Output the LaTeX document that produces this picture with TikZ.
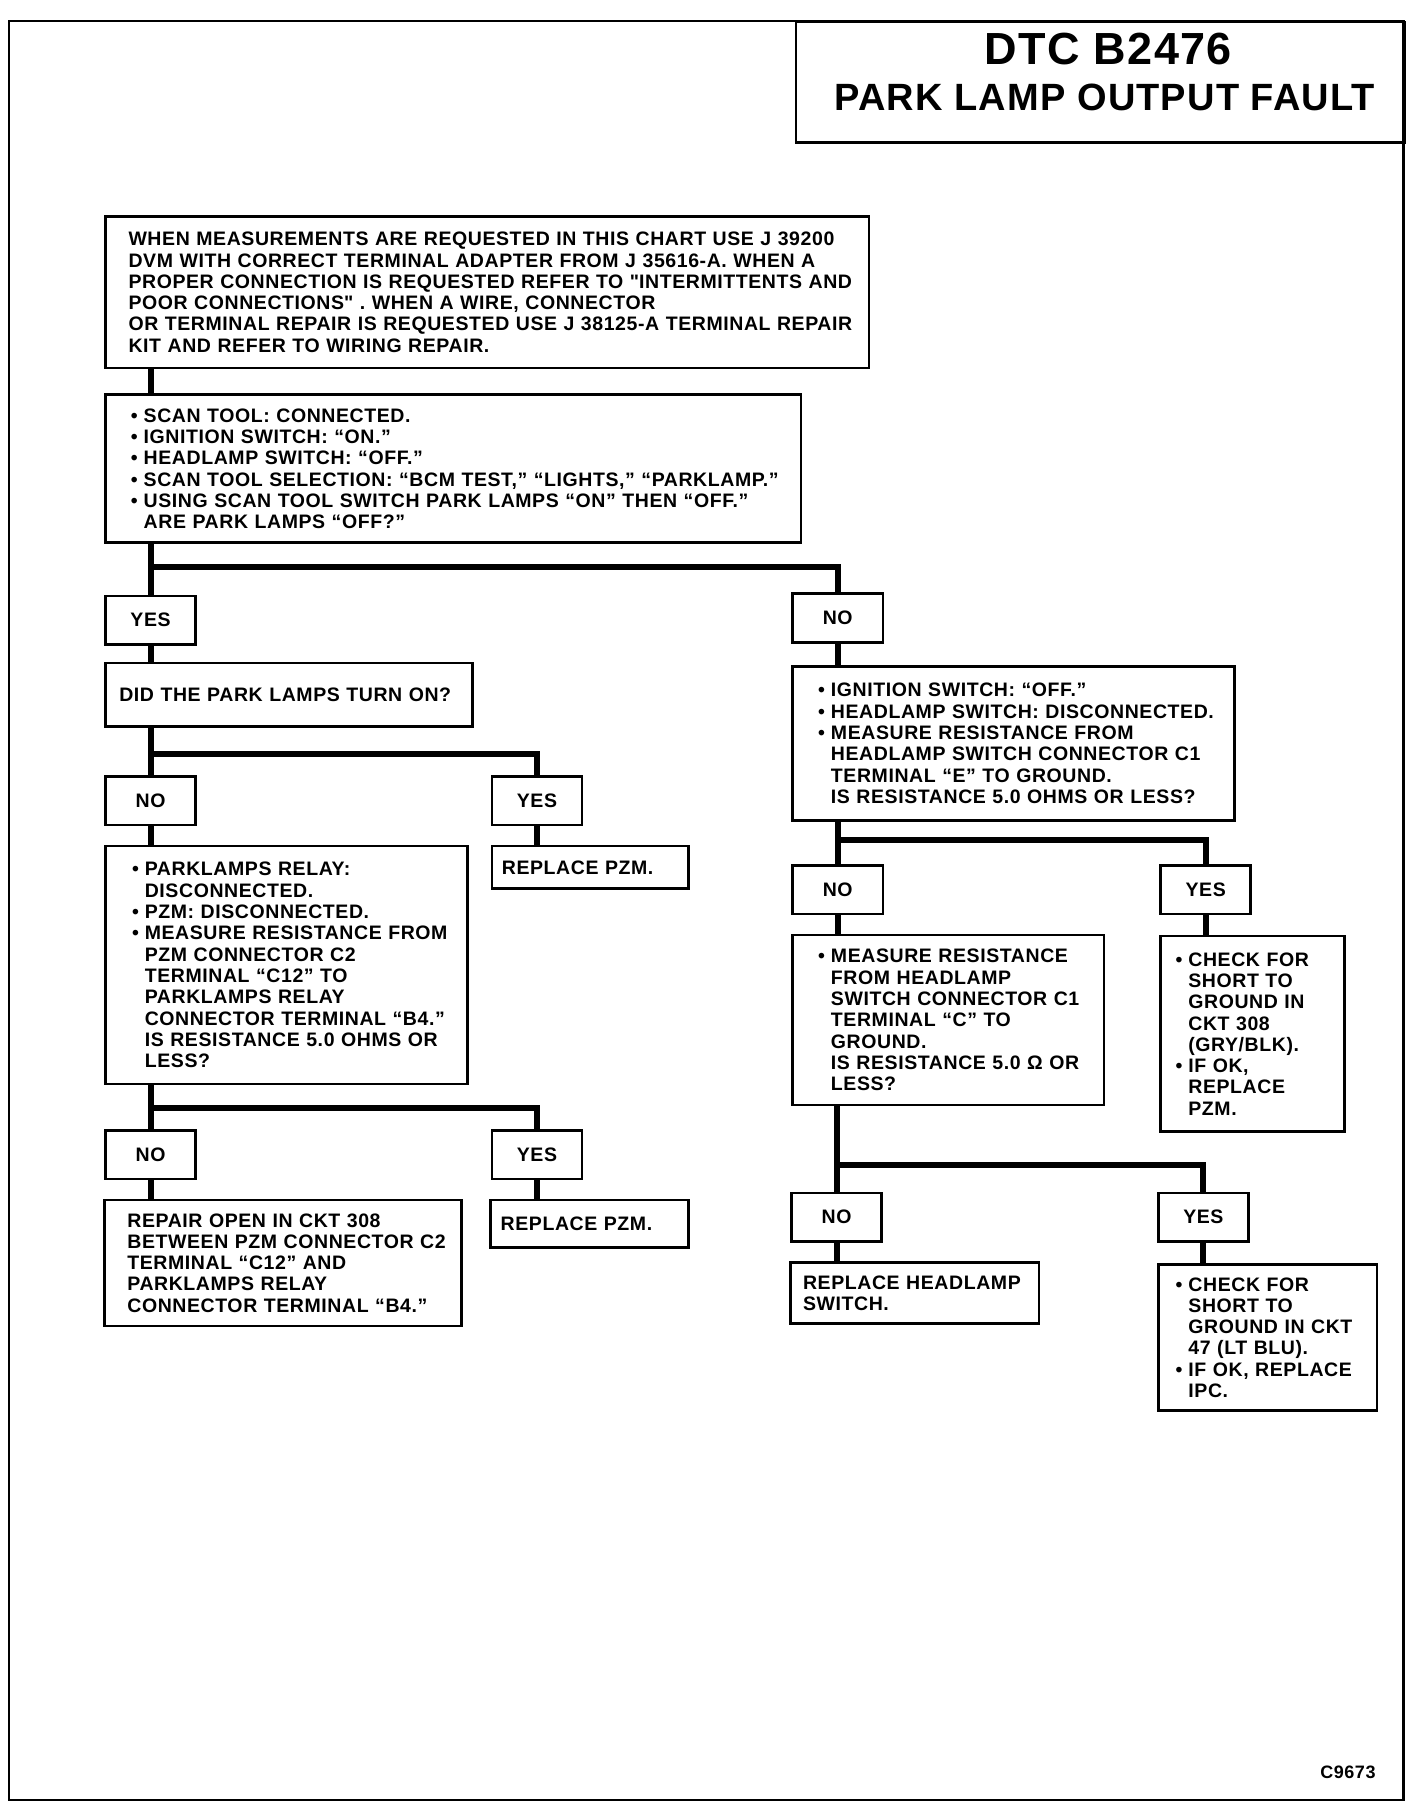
\documentclass[tikz,border=0pt]{standalone}
\usepackage{fontspec}
\setmainfont{Liberation Sans}[LetterSpace=3]
\setlength{\parindent}{0pt}
\newcommand{\bul}{\makebox[12.8pt][l]{\textbullet}}
\newcommand{\ind}{\hspace*{12.8pt}}

\begin{document}
\begin{tikzpicture}[x=1.157pt, y=-1.157pt,
	every node/.style={font=\bfseries\fontsize{19.5pt}{21.3pt}\selectfont},
	box/.style={draw, line width=2.6pt, anchor=north west, align=left, inner ysep=0pt,
		execute at begin node={\rightskip=0pt plus 1fil minus 100pt\relax}},
	ans/.style={draw, line width=2.6pt, anchor=north west, minimum width=90.2pt, minimum height=48.6pt, inner sep=0pt},
	link/.style={line width=6pt}]
	\fill[white] (0,0) rectangle (1230.8,1567.9);
	\useasboundingbox (0,0) rectangle (1230.8,1567.9);
	\draw[line width=2.3pt] (8,18) rectangle (1213,1556);

	% title block
	\node (title) [draw, line width=2.6pt, anchor=north west, minimum width=608.6pt, minimum height=120.3pt, inner sep=0pt] at (687,18) {};
	\node (dtc) [font=\bfseries\fontsize{45pt}{45pt}\selectfont] at (958,42) {DTC B2476};
	\node (plf) [font=\bfseries\fontsize{38pt}{38pt}\selectfont] at (955,84) {PARK LAMP OUTPUT FAULT};

	% left column
	\node (intro) [box, text width=717.4pt, inner xsep=23.1pt, minimum height=151.6pt] at (90,186) {WHEN MEASUREMENTS ARE REQUESTED IN THIS CHART USE J 39200\\
DVM WITH CORRECT TERMINAL ADAPTER FROM J 35616-A. WHEN A\\
PROPER CONNECTION IS REQUESTED REFER TO \textquotedbl INTERMITTENTS AND\\
POOR CONNECTIONS\textquotedbl\ . WHEN A WIRE, CONNECTOR\\
OR TERMINAL REPAIR IS REQUESTED USE J 38125-A TERMINAL REPAIR\\
KIT AND REFER TO WIRING REPAIR.};
	\node (scan) [box, text width=644.4pt, inner xsep=25.5pt, minimum height=148.1pt] at (90,340) {\bul SCAN TOOL: CONNECTED.\\
\bul IGNITION SWITCH: “ON.”\\
\bul HEADLAMP SWITCH: “OFF.”\\
\bul SCAN TOOL SELECTION: “BCM TEST,” “LIGHTS,” “PARKLAMP.”\\
\bul USING SCAN TOOL SWITCH PARK LAMPS “ON” THEN “OFF.”\\
\ind ARE PARK LAMPS “OFF?”};

	\node (yes1) [ans] at (90,514) {YES};
	\node (ask) [box, text width=339pt, inner xsep=13.9pt, minimum height=63.6pt] at (90,572) {DID THE PARK LAMPS TURN ON?};

	\node (no2) [ans] at (90,670) {NO};
	\node (yes2) [ans] at (424,670) {YES};
	\node (relay) [box, text width=308.9pt, inner xsep=26.6pt, minimum height=238.3pt] at (90,730) {\bul PARKLAMPS RELAY:\\
\ind DISCONNECTED.\\
\bul PZM: DISCONNECTED.\\
\bul MEASURE RESISTANCE FROM\\
\ind PZM CONNECTOR C2\\
\ind TERMINAL “C12” TO\\
\ind PARKLAMPS RELAY\\
\ind CONNECTOR TERMINAL “B4.”\\
\ind IS RESISTANCE 5.0 OHMS OR\\
\ind LESS?};
	\node (pzm1) [box, text width=176.7pt, inner xsep=10pt, minimum height=42.8pt, align=center] at (424,730) {REPLACE PZM.};

	\node (no3) [ans] at (90,976) {NO};
	\node (yes3) [ans] at (424,976) {YES};
	\node (repair) [box, text width=311.3pt, inner xsep=23.1pt, minimum height=126.1pt] at (89,1036) {REPAIR OPEN IN CKT 308\\
BETWEEN PZM CONNECTOR C2\\
TERMINAL “C12” AND\\
PARKLAMPS RELAY\\
CONNECTOR TERMINAL “B4.”};
	\node (pzm2) [box, text width=177.8pt, inner xsep=10pt, minimum height=47.4pt, align=center] at (423,1036) {REPLACE PZM.};

	% right column
	\node (no1) [ans] at (684,512) {NO};
	\node (hdl) [box, text width=391pt, inner xsep=25.5pt, minimum height=153.9pt] at (684,575) {\bul IGNITION SWITCH: “OFF.”\\
\bul HEADLAMP SWITCH: DISCONNECTED.\\
\bul MEASURE RESISTANCE FROM\\
\ind HEADLAMP SWITCH CONNECTOR C1\\
\ind TERMINAL “E” TO GROUND.\\
\ind IS RESISTANCE 5.0 OHMS OR LESS?};

	\node (no4) [ans] at (684,747) {NO};
	\node (yes4) [ans] at (1002,747) {YES};
	\node (meas) [box, text width=260.2pt, inner xsep=25.5pt, minimum height=170.1pt] at (684,807) {\bul MEASURE RESISTANCE\\
\ind FROM HEADLAMP\\
\ind SWITCH CONNECTOR C1\\
\ind TERMINAL “C” TO\\
\ind GROUND.\\
\ind IS RESISTANCE 5.0 Ω OR\\
\ind LESS?};
	\node (short1) [box, text width=154pt, inner xsep=15pt, minimum height=195.5pt] at (1002,808) {\bul CHECK FOR\\
\ind SHORT TO\\
\ind GROUND IN\\
\ind CKT 308\\
\ind (GRY/BLK).\\
\bul IF OK,\\
\ind REPLACE\\
\ind PZM.};

	\node (no5) [ans] at (683,1030) {NO};
	\node (yes5) [ans] at (1000,1030) {YES};
	\node (hsw) [box, text width=223.4pt, inner xsep=12.7pt, minimum height=61.3pt] at (682,1090) {REPLACE HEADLAMP\\
SWITCH.};
	\node (short2) [box, text width=183.9pt, inner xsep=17.4pt, minimum height=145.8pt] at (1000,1092) {\bul CHECK FOR\\
\ind SHORT TO\\
\ind GROUND IN CKT\\
\ind 47 (LT BLU).\\
\bul IF OK, REPLACE\\
\ind IPC.};

	\node (code) [anchor=east, font=\bfseries\fontsize{18pt}{18pt}\selectfont] at (1192,1532) {C9673};

	% branch points
	\coordinate (s1) at (129,490);
	\coordinate (s2) at (129,652);
	\coordinate (s3) at (129,958);
	\coordinate (s4) at (723,726);
	\coordinate (s5) at (722,1007);

	\draw[link] (intro.south -| yes1) -- (scan.north -| yes1);
	\draw[link] (scan.south -| yes1) -- (yes1.north);
	\draw[link] (s1) -| (no1.north);
	\draw[link] (yes1.south) -- (ask.north -| yes1);

	\draw[link] (ask.south -| no2) -- (no2.north);
	\draw[link] (s2) -| (yes2.north);
	\draw[link] (no2.south) -- (relay.north -| no2);
	\draw[link] (yes2.south) -- (pzm1.north -| yes2);

	\draw[link] (relay.south -| no3) -- (no3.north);
	\draw[link] (s3) -| (yes3.north);
	\draw[link] (no3.south) -- (repair.north -| no3);
	\draw[link] (yes3.south) -- (pzm2.north -| yes3);

	\draw[link] (no1.south) -- (hdl.north -| no1);
	\draw[link] (hdl.south -| no4) -- (no4.north);
	\draw[link] (s4) -| (yes4.north);
	\draw[link] (no4.south) -- (meas.north -| no4);
	\draw[link] (yes4.south) -- (short1.north -| yes4);

	\draw[link] (meas.south -| no5) -- (no5.north);
	\draw[link] (s5) -| (yes5.north);
	\draw[link] (no5.south) -- (hsw.north -| no5);
	\draw[link] (yes5.south) -- (short2.north -| yes5);
\end{tikzpicture}
\end{document}
